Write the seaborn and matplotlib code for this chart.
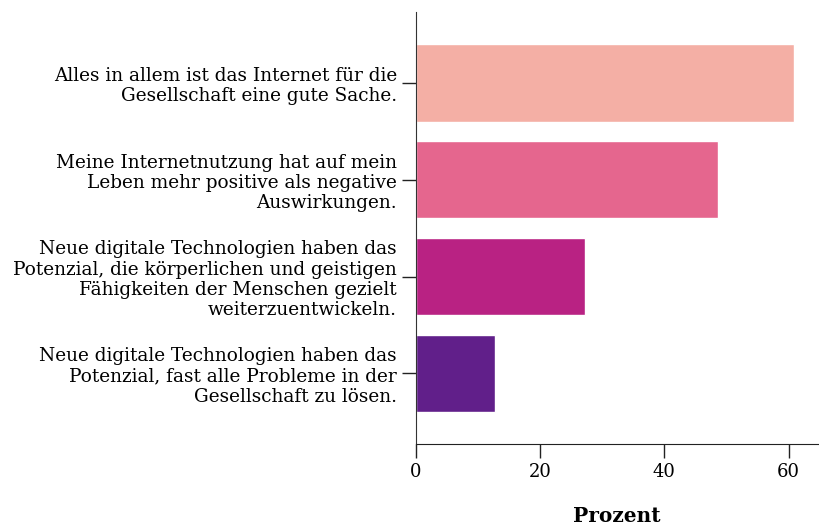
import pandas as pd
import seaborn as sns
import matplotlib.pyplot as plt

statements = [
    "Alles in allem ist das Internet für die\nGesellschaft eine gute Sache.",
    "Meine Internetnutzung hat auf mein\nLeben mehr positive als negative\nAuswirkungen.",
    "Neue digitale Technologien haben das\nPotenzial, die körperlichen und geistigen\nFähigkeiten der Menschen gezielt\nweiterzuentwickeln.",
    "Neue digitale Technologien haben das\nPotenzial, fast alle Probleme in der\nGesellschaft zu lösen.",
]
percent = [60.8, 48.7, 27.3, 12.7]
colors = ["#F4AFA5", "#E5668E", "#B92283", "#611F8A"]

df = pd.DataFrame({"statement": statements, "percent": percent})

sns.set_style("ticks")
plt.rcParams["font.family"] = ["DejaVu Serif"]
plt.rcParams["text.color"] = "black"
plt.rcParams["xtick.labelcolor"] = "black"
plt.rcParams["ytick.labelcolor"] = "black"

fig = plt.figure(figsize=(8.2, 5.28), dpi=100)
ax = fig.add_axes([0.507, 0.159, 0.491, 0.818])
sns.barplot(data=df, x="percent", y="statement", hue="statement", palette=colors,
            width=0.8, saturation=1, legend=False, ax=ax)

ax.set_xlim(0, 64.8)
ax.set_ylim(3.73, -0.73)
ax.set_xticks([0, 20, 40, 60])
ax.set_xlabel("Prozent", fontsize=14.5, fontweight="bold", labelpad=18, color="black")
ax.set_ylabel("")
ax.tick_params(axis="y", labelsize=13.3, length=10, width=1, color="#222222")
ax.tick_params(axis="x", labelsize=13, length=10, width=1, color="#222222")
for lab in ax.get_yticklabels():
    lab.set_linespacing(1.15)
sns.despine(ax=ax)
ax.spines["left"].set_color("#333333")
ax.spines["bottom"].set_color("#222222")

fig.savefig("out.png", dpi=100)
